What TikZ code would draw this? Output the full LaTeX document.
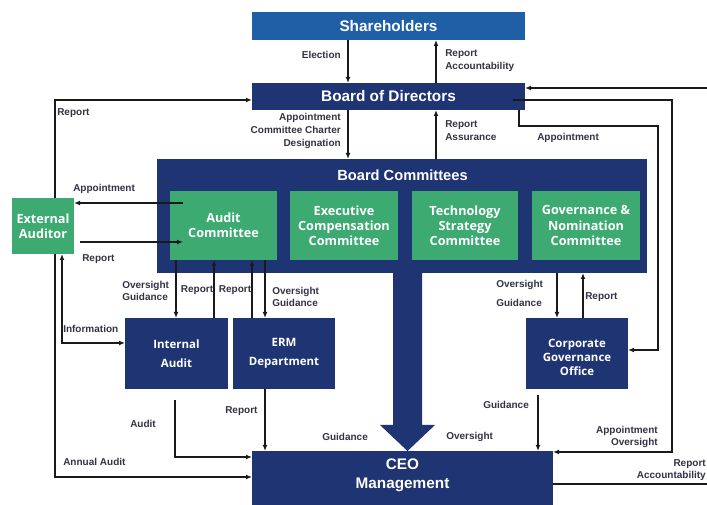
\documentclass[tikz,border=0pt]{standalone}
\usepackage{fontspec}
\setmainfont{Liberation Sans}
\newfontfamily\boxfont{Open Sans}
\usetikzlibrary{arrows.meta,calc}
\definecolor{shblue}{HTML}{1F5FA6}
\definecolor{navy}{HTML}{1F3473}
\definecolor{cgreen}{HTML}{3DAA72}
\definecolor{lblc}{HTML}{333344}
\definecolor{linec}{HTML}{1A1A1A}
\begin{document}
\begin{tikzpicture}[x=0.75pt,y=-0.75pt,
  box/.style={inner sep=0pt, outer sep=0pt, align=center, text=white},
  topbox/.style={box, fill=navy, font=\fontsize{11.5}{13}\selectfont\bfseries},
  gbox/.style={box, fill=cgreen, font=\boxfont\fontsize{9.5}{11.3}\selectfont\bfseries},
  nbox/.style={box, fill=navy, font=\boxfont\fontsize{8.6}{10.5}\selectfont\bfseries},
  lbl/.style={inner sep=0pt, text=lblc, font=\fontsize{7.5}{9.6}\selectfont\bfseries},
  arr/.style={draw=linec, line width=0.9pt, -{Latex[length=4.5pt,width=3.6pt]}},
  darr/.style={draw=linec, line width=0.9pt, {Latex[length=4.5pt,width=3.6pt]}-{Latex[length=4.5pt,width=3.6pt]}},
  ln/.style={draw=linec, line width=0.9pt}
]
\useasboundingbox (0,0) rectangle (707,505);
\clip (0,0) rectangle (707,505);
\fill[white] (0,0) rectangle (707,505);

% boxes
\node[topbox, fill=shblue, minimum width=204.75pt, minimum height=21pt] (sh) at (388.5,26) {Shareholders};
\node[topbox, minimum width=204.75pt, minimum height=20.25pt] (bod) at (388.5,96.5) {Board of Directors};
\node[box, fill=navy, minimum width=367.5pt, minimum height=85.5pt] (bc) at (402,216) {};
\node[box, font=\fontsize{11}{13}\selectfont\bfseries] (bct) at (402.5,175) {Board Committees};
\node[gbox, minimum width=80.25pt, minimum height=51.75pt] (audit) at (223.5,225.5) {Audit\\Committee};
\node[gbox, minimum width=81pt, minimum height=51.75pt] (exec) at (344,225.5) {Executive\\Compensation\\Committee};
\node[gbox, minimum width=79.5pt, minimum height=51.75pt] (tech) at (465,225.5) {Technology\\Strategy\\Committee};
\node[gbox, minimum width=81pt, minimum height=51.75pt] (gov) at (586,225.5) {Governance \&\\Nomination\\Committee};
\node[gbox, minimum width=46.5pt, minimum height=42pt] (ext) at (43,226) {External\\Auditor};
\node[nbox, minimum width=77.25pt, minimum height=53.25pt] (ia) at (176.5,353.5) {Internal\\[4pt]Audit};
\node[nbox, minimum width=76.5pt, minimum height=53.25pt] (erm) at (284,353.5) {ERM\\[4pt]Department};
\node[nbox, minimum width=76.5pt, minimum height=53.25pt] (cgo) at (577,353.5) {\rule{0pt}{11.5pt}Corporate\\Governance\\Office};
\node[box, fill=navy, anchor=north, minimum width=225.75pt, inner ysep=6pt,
      text depth=34pt, font=\fontsize{11.5}{14.25}\selectfont\bfseries] (ceo) at (402.5,451) {CEO\\Management};

% big arrow from committees to CEO
\fill[navy] (393,272) -- (422,272) -- (422,425) -- (435,425) -- (407.5,451) -- (380,425) -- (393,425) -- cycle;

% shareholders / board
\draw[arr] (348,0 |- sh.south) -- (348,0 |- bod.north);
\draw[arr] (436,0 |- bod.north) -- (436,0 |- sh.south);
\node[lbl, anchor=east] at (341,55) {Election};
\node[lbl, anchor=west, align=left] at (445,61) {Report\\Accountability};

% board / committees
\draw[arr] (348,0 |- bod.south) -- (348,0 |- bc.north);
\draw[arr] (436,0 |- bc.north) -- (436,0 |- bod.south);
\node[lbl, anchor=east, align=right] at (341,131) {Appointment\\Committee Charter\\Designation};
\node[lbl, anchor=west, align=left] at (445,131) {Report\\Assurance};

% external auditor
\draw[arr] (55,0 |- ext.north) |- ([yshift=-2.6pt]bod.west);
\node[lbl, anchor=west] at (57,113) {Report};
\draw[arr] (55,0 |- ext.south) |- (ceo.west |- 0,477);
\node[lbl, anchor=west] at (63,462) {Annual Audit};
\draw[darr] (62,0 |- ext.south) |- (ia.west |- 0,343);
\node[lbl, anchor=west] at (63,329) {Information};
\draw[arr] ([xshift=9.75pt]audit.west |- 0,203) -- (ext.east |- 0,203);
\node[lbl, anchor=west] at (73,189) {Appointment};
\draw[arr] ([xshift=4.5pt]ext.east |- 0,242) -- ([xshift=9.75pt]audit.west |- 0,242);
\node[lbl, anchor=west] at (82,259) {Report};

% audit committee / internal audit / ERM
\draw[arr] (176,0 |- audit.south) -- (176,0 |- ia.north);
\draw[arr] (214,0 |- ia.north) -- (214,0 |- audit.south);
\draw[arr] (252,0 |- erm.north) -- (252,0 |- audit.south);
\draw[arr] (265,0 |- audit.south) -- (265,0 |- erm.north);
\node[lbl, anchor=west, align=left] at (122,291) {Oversight\\Guidance};
\node[lbl] at (197,290) {Report};
\node[lbl] at (235,290) {Report};
\node[lbl, anchor=west, align=left] at (272,297) {Oversight\\Guidance};

% to CEO
\draw[arr] ($(175,0 |- ia.south)+(0,11)$) |- (ceo.west |- 0,457);
\node[lbl, anchor=west] at (130,424) {Audit};
\draw[arr] (265,0 |- erm.south) -- (265,0 |- ceo.north);
\node[lbl, anchor=west] at (225,411) {Report};
\node[lbl, anchor=west] at (322,437) {Guidance};
\node[lbl, anchor=west] at (446,437) {Oversight};

% governance committee / CGO
\draw[arr] (557,0 |- bc.south) -- (557,0 |- cgo.north);
\draw[arr] (583,0 |- cgo.north) -- (583,0 |- bc.south);
\node[lbl, anchor=west, align=left] at (496,293.5) {Oversight\\[4.5pt]Guidance};
\node[lbl, anchor=west] at (585,297) {Report};
\draw[arr] ($(538,0 |- cgo.south)+(0,6)$) -- (538,0 |- ceo.north);
\node[lbl, anchor=west] at (483,405) {Guidance};

% right side connectors
\draw[arr] (519,0 |- bod.south) -- (519,126) -- (658,126) |- (cgo.east |- 0,350);
\node[lbl, anchor=west] at (537,138) {Appointment};
\draw[arr] ([xshift=-9pt]bod.east |- 0,100) -- (672,100) |- (ceo.east |- 0,452);
\node[lbl, anchor=east, align=right] at (658,437) {Appointment\\Oversight};
\draw[arr] (ceo.east |- 0,484) -- (725,484) -- (725,88) -- (bod.east |- 0,88);
\node[lbl, anchor=east, align=right] at (706,470) {Report\\Accountability};
\end{tikzpicture}
\end{document}
